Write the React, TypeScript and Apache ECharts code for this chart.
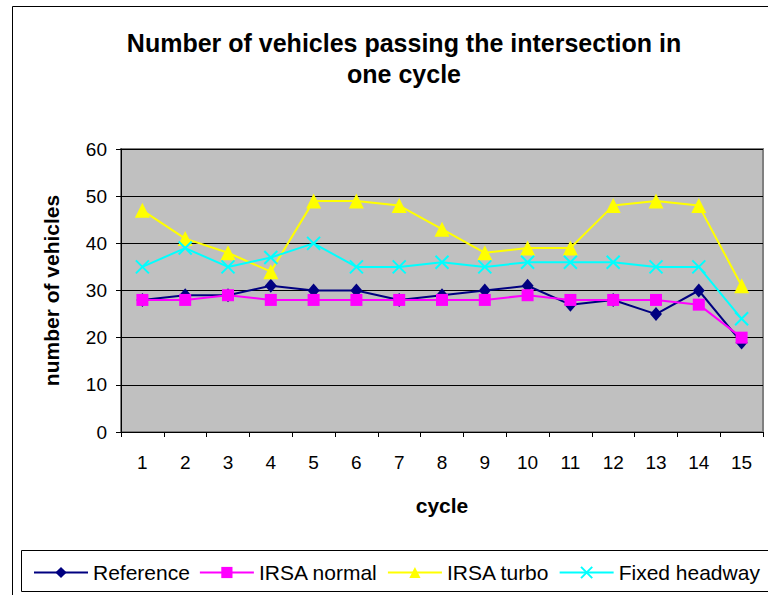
import React, { useEffect, useRef } from "react";
import * as echarts from "echarts";

const cycles = ["1", "2", "3", "4", "5", "6", "7", "8", "9", "10", "11", "12", "13", "14", "15"];
const reference = [28, 29, 29, 31, 30, 30, 28, 29, 30, 31, 27, 28, 25, 30, 19];
const irsaNormal = [28, 28, 29, 28, 28, 28, 28, 28, 28, 29, 28, 28, 28, 27, 20];
const irsaTurbo = [47, 41, 38, 34, 49, 49, 48, 43, 38, 39, 39, 48, 49, 48, 31];
const fixedHeadway = [35, 39, 35, 37, 40, 35, 35, 36, 35, 36, 36, 36, 35, 35, 24];
const yTicks = { min: 0, max: 60, interval: 10 };

const FONT = "'Liberation Sans', Arial, sans-serif";

export default function App() {
  const ref = useRef<HTMLDivElement>(null);
  useEffect(() => {
    if (!ref.current) return;
    const chart = echarts.init(ref.current, null, { renderer: "svg" });
    const mk = (name: string, data: number[], color: string, symbol: string, size: any, extra: any = {}) => ({
      name,
      type: "line",
      data,
      symbol,
      symbolSize: size,
      showSymbol: true,
      lineStyle: { color, width: 2 },
      itemStyle: { color, borderColor: color, borderWidth: extra.borderWidth ?? 0 },
      emphasis: { disabled: true },
    });
    chart.setOption({
      animation: false,
      backgroundColor: "#ffffff",
      title: {
        text: "Number of vehicles passing the intersection in\none cycle",
        left: 399,
        top: 22,
        textAlign: "center",
        textStyle: { fontFamily: FONT, fontWeight: "bold", fontSize: 25, color: "#000", lineHeight: 31 },
      },
      graphic: [
        { type: "rect", shape: { x: 12.5, y: 6.5, width: 820, height: 640 }, style: { fill: "none", stroke: "#000", lineWidth: 1 }, z: -1 },
        { type: "rect", shape: { x: 21.5, y: 550.5, width: 820, height: 41 }, style: { fill: "none", stroke: "#000", lineWidth: 1 }, z: -1 },
      ],
      legend: {
        left: 28,
        top: 557,
        itemWidth: 54,
        itemHeight: 14,
        itemGap: 9,
        textStyle: { fontFamily: FONT, fontSize: 21, color: "#000" },
        data: ["Reference", "IRSA normal", "IRSA turbo", "Fixed headway"],
      },
      grid: {
        left: 121,
        top: 149,
        right: 5,
        bottom: 163,
        show: true,
        backgroundColor: "#c0c0c0",
        borderColor: "#808080",
        borderWidth: 2,
      },
      xAxis: {
        type: "category",
        data: cycles,
        boundaryGap: true,
        name: "cycle",
        nameLocation: "middle",
        nameGap: 63,
        nameTextStyle: { fontFamily: FONT, fontWeight: "bold", fontSize: 21, color: "#000" },
        axisLine: { lineStyle: { color: "#000", width: 1 } },
        axisTick: { show: true, length: 5, interval: 0, lineStyle: { color: "#000" } },
        axisLabel: { fontFamily: FONT, fontSize: 19, color: "#000", margin: 21, interval: 0 },
        splitLine: { show: false },
      },
      yAxis: {
        type: "value",
        min: yTicks.min,
        max: yTicks.max,
        interval: yTicks.interval,
        name: "number of vehicles",
        nameLocation: "middle",
        nameGap: 59,
        nameRotate: 90,
        nameTextStyle: { fontFamily: FONT, fontWeight: "bold", fontSize: 21, color: "#000" },
        axisLine: { show: true, lineStyle: { color: "#000", width: 1 } },
        axisTick: { show: true, length: 5, lineStyle: { color: "#000" } },
        axisLabel: { fontFamily: FONT, fontSize: 19, color: "#000", margin: 14 },
        splitLine: { show: true, lineStyle: { color: "#000", width: 1 } },
      },
      series: [
        mk("Reference", reference, "#000080", "diamond", [12, 14]),
        mk("IRSA normal", irsaNormal, "#ff00ff", "rect", 12),
        mk("IRSA turbo", irsaTurbo, "#ffff00", "triangle", 15),
        mk("Fixed headway", fixedHeadway, "#00ffff", "path://M0,0L10,10M10,0L0,10", 13, { borderWidth: 2 }),
      ],
    });
    return () => chart.dispose();
  }, []);
  return <div ref={ref} style={{ position: "absolute", left: 0, top: 0, width: 768, height: 595 }} />;
}
